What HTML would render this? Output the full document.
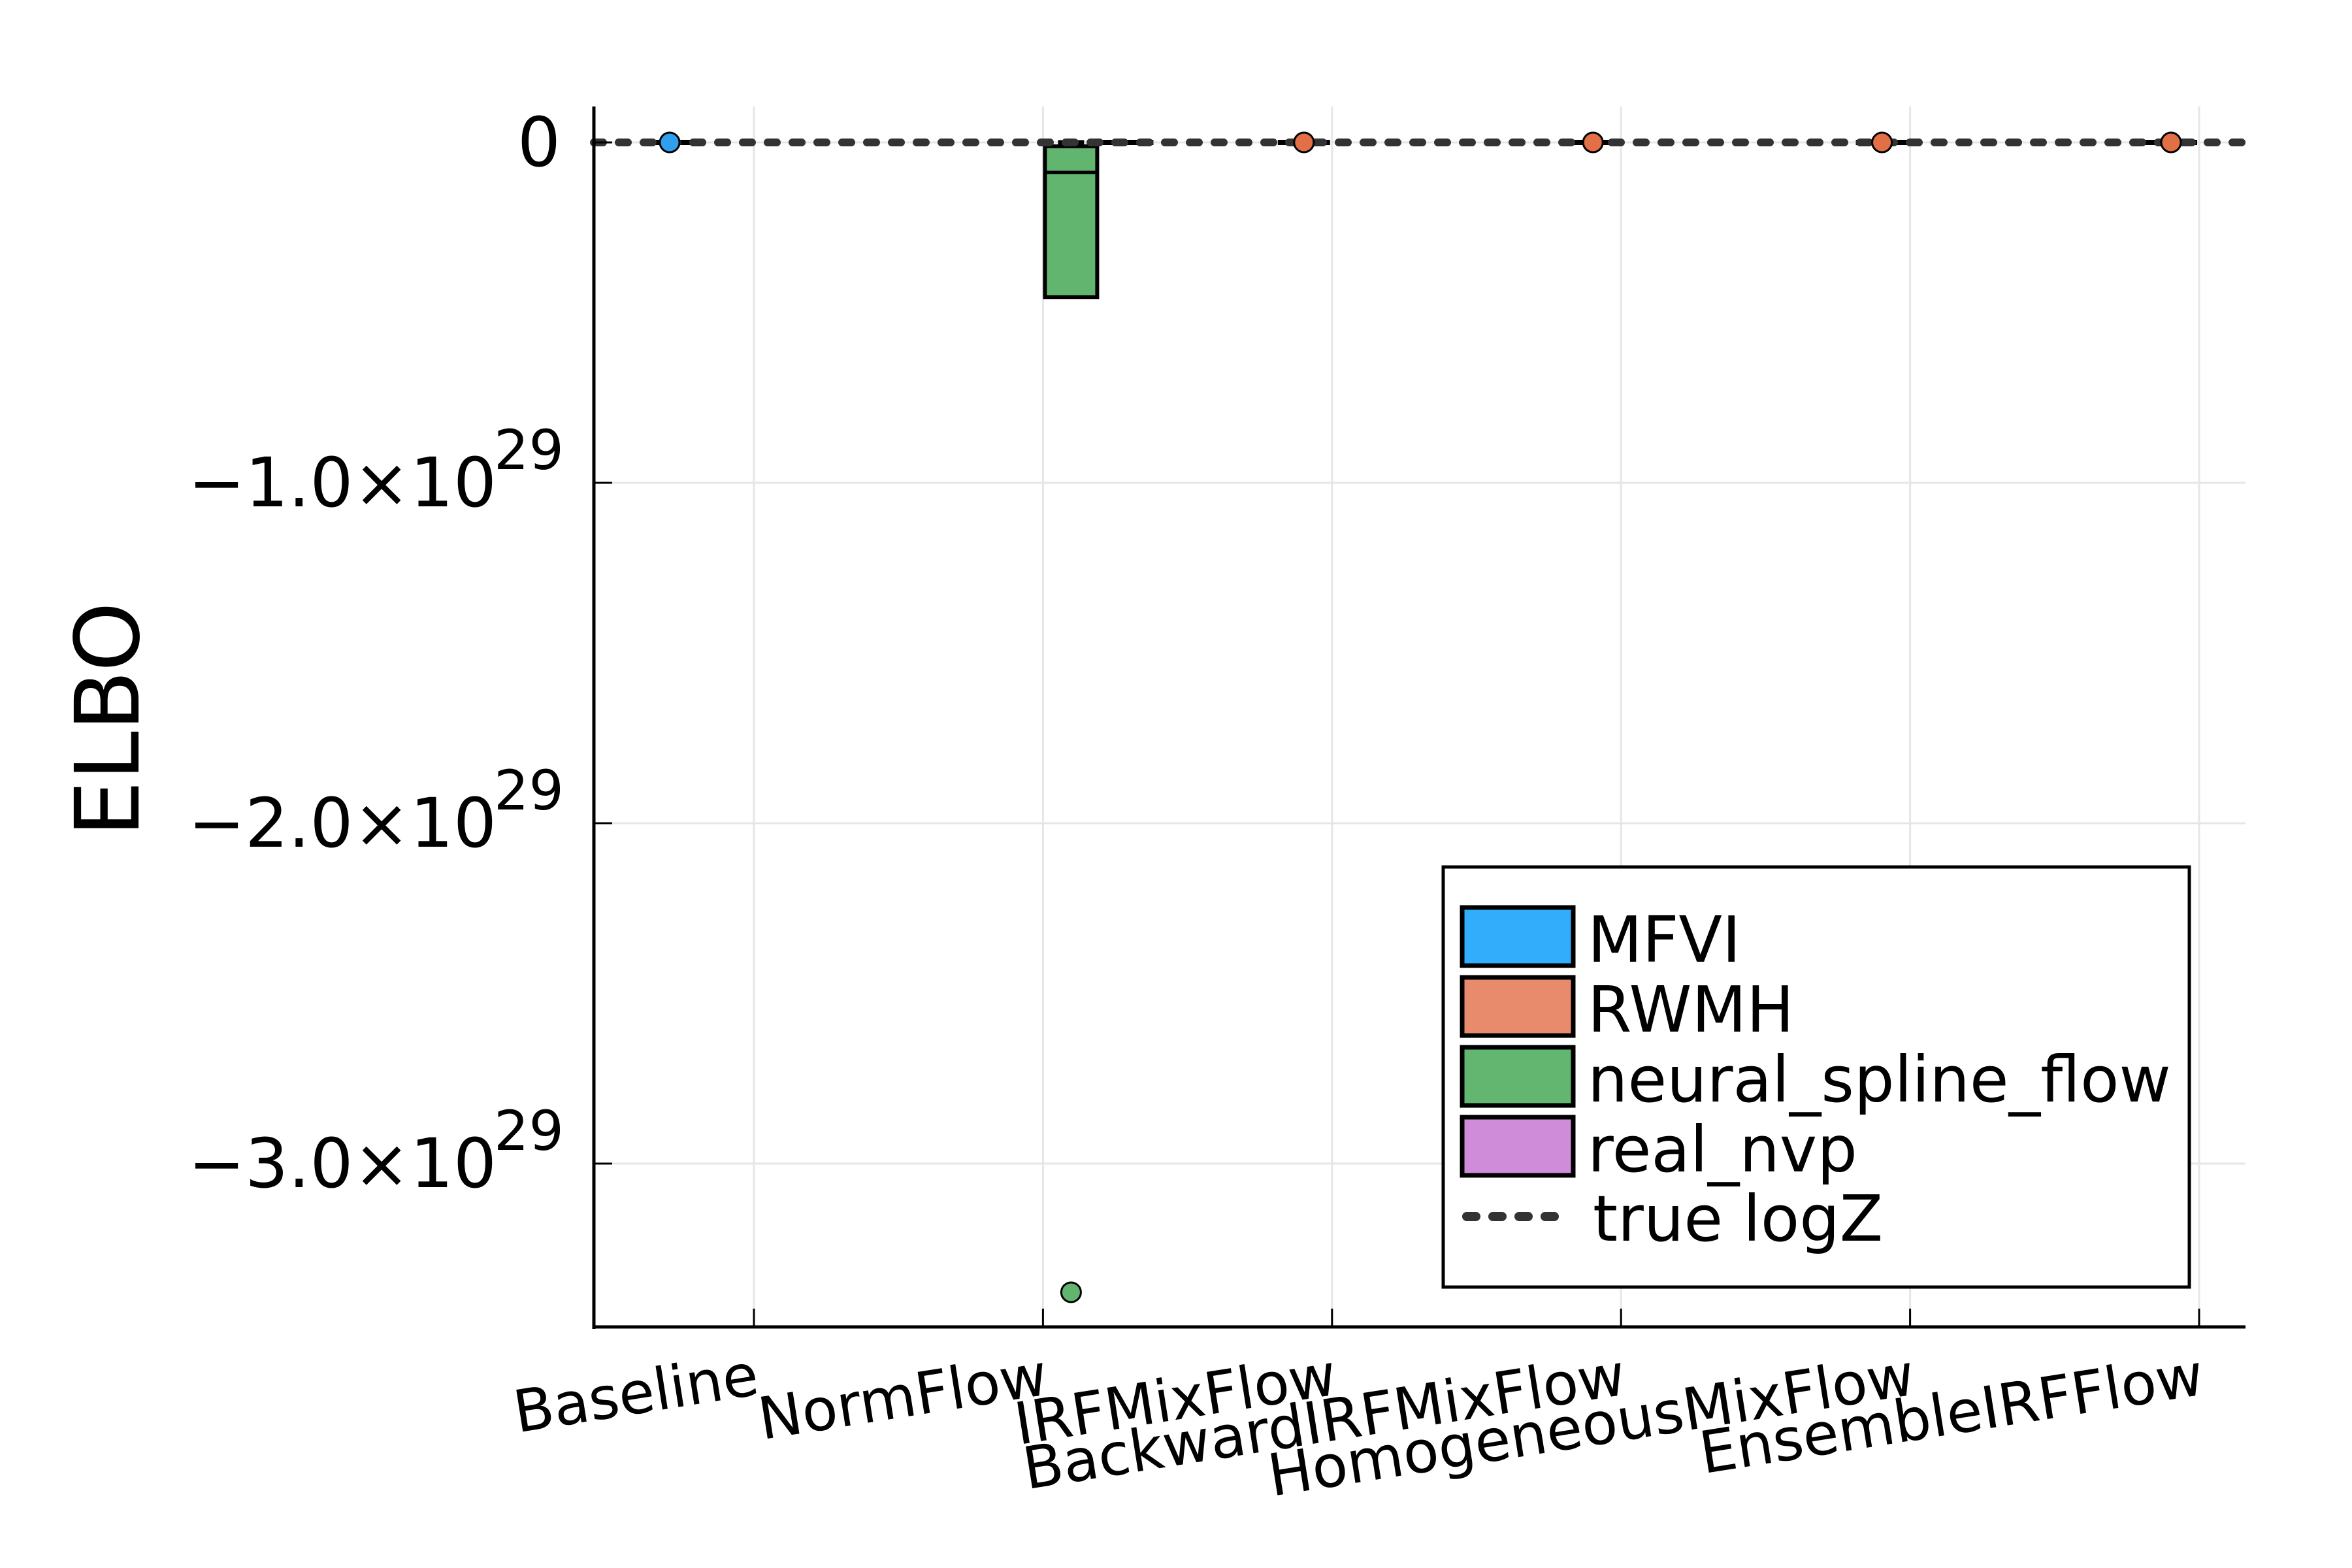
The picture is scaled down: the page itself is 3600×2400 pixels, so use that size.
<!DOCTYPE html>
<html><head><meta charset="utf-8"><style>
html,body{margin:0;padding:0;background:#fff}
svg{display:block;font-family:"DejaVu Sans","Liberation Sans",sans-serif}
</style></head><body>
<svg id="chart" width="3600" height="2400" viewBox="0 0 3600 2400" xmlns="http://www.w3.org/2000/svg">
<rect width="3600" height="2400" fill="#fff"/>
<g id="grid"></g>
<g id="marks"></g>
<g id="axes"></g>
<g id="legend"></g>
</svg>
<script>
const categories = ["Baseline","NormFlow","IRFMixFlow","BackwardIRFMixFlow","HomogeneousMixFlow","EnsembleIRFFlow"];
const seriesNames = ["MFVI","RWMH","neural_spline_flow","real_nvp"];
const seriesColors = ["#2f9fee","#e26f46","#62b56f","#cf8dd9"];
const legendColors = ["#32adfb","#e88b6c","#62b670","#cf8dd9"];
// boxes (units of 1e29)
const boxCats = [0, 1, 1, 2, 3, 4, 5];
const boxSeries = [0, 2, 3, 1, 1, 1, 1];
const boxQ1 = [0, -0.455, 0, 0, 0, 0, 0];
const boxMed = [0, -0.088, 0, 0, 0, 0, 0];
const boxQ3 = [0, -0.0115, 0, 0, 0, 0, 0];
const boxHi = [0, 0, 0, 0, 0, 0, 0];
// outlier points
const ptCats = [0, 1, 2, 3, 4, 5];
const ptSeries = [0, 2, 1, 1, 1, 1];
const ptValues = [0, -3.378, 0, 0, 0, 0];
const yTicks = [0, -1, -2, -3];
const yTickLabels = ["0", "\u22121.0\u00d710", "\u22122.0\u00d710", "\u22123.0\u00d710"];
const trueLogZ = 0;

const NS = "http://www.w3.org/2000/svg";
const L = 909, R = 3437, T = 163, B = 2031;
const y0px = 218, yUnit = 521;
function yS(v){ return y0px - v * yUnit; }
const tick0 = 1154, tickStep = 442.4, gw = 86;
function xCat(i){ return tick0 + i * tickStep; }
function xGroup(c, s){ return xCat(c) + (s - 1.5) * gw; }
function mk(tag, attrs, parent){ const e = document.createElementNS(NS, tag); for (const k in attrs) e.setAttribute(k, attrs[k]); parent.appendChild(e); return e; }

const grid = document.getElementById('grid'), marks = document.getElementById('marks'), axes = document.getElementById('axes'), legend = document.getElementById('legend');

categories.forEach((c, i) => {
  const g = mk('line', {x1: xCat(i), x2: xCat(i), y1: T, y2: B, stroke: '#e6e6e6', 'stroke-width': 3}, grid);
  
  
});
yTicks.forEach(v => {
  const g = mk('line', {x1: L, x2: R, y1: yS(v), y2: yS(v), stroke: '#e6e6e6', 'stroke-width': 3}, grid);
  
  
});

boxCats.forEach((c, k) => {
  const s = boxSeries[k], cx = xGroup(c, s), w = 80;
  const grp = mk('g', {}, marks);
  
  
  const yq1 = yS(boxQ1[k]), yq3 = yS(boxQ3[k]), ym = yS(boxMed[k]), yh = yS(boxHi[k]);
  if (yq1 - yq3 > 2) {
    mk('line', {x1: cx, x2: cx, y1: yh, y2: yq3, stroke: '#000', 'stroke-width': 5}, grp);
    mk('line', {x1: cx - 20, x2: cx + 20, y1: yh, y2: yh, stroke: '#000', 'stroke-width': 7}, grp);
    mk('rect', {x: cx - w/2, y: yq3, width: w, height: yq1 - yq3, fill: seriesColors[s], stroke: '#000', 'stroke-width': 6}, grp);
    mk('line', {x1: cx - w/2, x2: cx + w/2, y1: ym, y2: ym, stroke: '#000', 'stroke-width': 5}, grp);
  } else {
    mk('line', {x1: cx - w/2, x2: cx + w/2, y1: yq1, y2: yq1, stroke: '#000', 'stroke-width': 8}, grp);
  }
});

const tl = mk('line', {x1: L, x2: R, y1: yS(trueLogZ), y2: yS(trueLogZ), stroke: '#333', 'stroke-width': 12, 'stroke-dasharray': '14 24', 'stroke-linecap': 'round'}, marks);



ptCats.forEach((c, k) => {
  const s = ptSeries[k];
  const p = mk('circle', {cx: xGroup(c, s), cy: yS(ptValues[k]), r: 15, fill: seriesColors[s], stroke: '#000', 'stroke-width': 3}, marks);
  
  
});

const ya = mk('line', {x1: L, x2: L, y1: T, y2: B + 3, stroke: '#000', 'stroke-width': 5}, axes);


const xa = mk('line', {x1: L - 2, x2: R, y1: B, y2: B, stroke: '#000', 'stroke-width': 5}, axes);



yTicks.forEach((v, i) => {
  mk('line', {x1: L, x2: L + 28, y1: yS(v), y2: yS(v), stroke: '#000', 'stroke-width': 3}, axes);
  const t = mk('text', {x: i === 0 ? 858 : 760, y: yS(v) + 36, 'font-size': 104, 'text-anchor': 'end', fill: '#000'}, axes);
  t.textContent = yTickLabels[i];
  
  
  if (i > 0) {
    const sp = mk('text', {x: 756, y: yS(v) - 21, 'font-size': 84, 'text-anchor': 'start', fill: '#000'}, axes);
    sp.textContent = "29";
    
    
  }
});

categories.forEach((c, i) => {
  mk('line', {x1: xCat(i), x2: xCat(i), y1: B, y2: B - 28, stroke: '#000', 'stroke-width': 3}, axes);
  const t = mk('text', {x: xCat(i), y: 2068, 'font-size': 89, 'text-anchor': 'end', 'dominant-baseline': 'hanging', fill: '#000', transform: 'rotate(-9 ' + xCat(i) + ' 2068)'}, axes);
  t.textContent = c;
  
  
});

const yt = mk('text', {x: 0, y: 0, 'font-size': 136, 'text-anchor': 'middle', fill: '#000', transform: 'translate(212 1101) rotate(-90)'}, axes);
yt.textContent = "ELBO";



const lb = mk('rect', {x: 2209, y: 1327, width: 1142, height: 643, fill: '#fff', stroke: '#000', 'stroke-width': 5}, legend);


seriesNames.forEach((n, i) => {
  const yTop = 1389 + i * 107;
  const sw = mk('rect', {x: 2238, y: yTop, width: 170, height: 89, fill: legendColors[i], stroke: '#000', 'stroke-width': 7}, legend);
  
  
  const t = mk('text', {x: 2430, y: 1472 + i * 107, 'font-size': 97, fill: '#000'}, legend);
  t.textContent = n;
  
  
});
const ll = mk('line', {x1: 2245, x2: 2405, y1: 1862, y2: 1862, stroke: '#333', 'stroke-width': 14, 'stroke-dasharray': '14 26', 'stroke-linecap': 'round'}, legend);


const lt = mk('text', {x: 2438, y: 1899, 'font-size': 97, fill: '#000'}, legend);
lt.textContent = "true logZ";


</script>
</body></html>
